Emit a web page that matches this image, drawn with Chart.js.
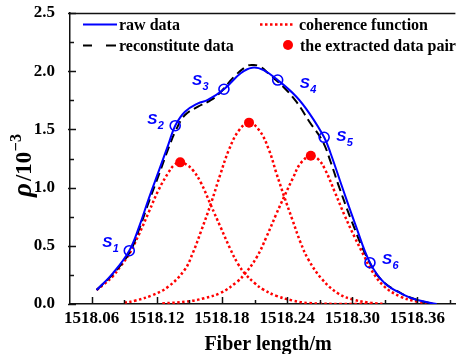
<!DOCTYPE html>
<html><head><meta charset="utf-8">
<script src="https://cdn.jsdelivr.net/npm/chart.js@4.4.0/dist/chart.umd.min.js"></script>
<style>html,body{margin:0;padding:0;background:#fff}canvas{display:block}</style>
</head><body>
<canvas id="c" width="462" height="354"></canvas>
<script>
// ---- data ----
const rawX = [1518.0645,1518.0795,1518.0946,1518.1037,1518.1127,1518.1218,1518.1308,1518.1369,1518.1459,1518.1579,1518.1669,1518.1818,1518.1972,1518.2077,1518.2183,1518.2313,1518.2485,1518.2605,1518.2741,1518.2801,1518.2907,1518.3027,1518.3163,1518.3299,1518.3480,1518.3600,1518.3778];
const rawY = [0.12,0.264,0.458,0.664,0.91,1.143,1.375,1.532,1.652,1.724,1.753,1.845,1.982,2.03,2.01,1.924,1.781,1.638,1.432,1.293,1.005,0.687,0.355,0.178,0.077,0.034,0.0];

const recX = [1518.0645,1518.0795,1518.0946,1518.1037,1518.1127,1518.1218,1518.1308,1518.1369,1518.1459,1518.1579,1518.1700,1518.1791,1518.1912,1518.2032,1518.2093,1518.2153,1518.2243,1518.2364,1518.2485,1518.2605,1518.2726,1518.2801,1518.2876,1518.2998,1518.3133,1518.3269,1518.3450,1518.3600,1518.3721];
const recY = [0.12,0.258,0.438,0.644,0.88,1.11,1.34,1.48,1.624,1.695,1.753,1.824,1.953,2.045,2.053,2.039,1.967,1.867,1.738,1.566,1.40,1.22,1.013,0.704,0.406,0.206,0.092,0.034,0.006];

const coh1X = [1518.0645,1518.0720,1518.0795,1518.0870,1518.0946,1518.1036,1518.1126,1518.1216,1518.1307,1518.1360,1518.1415,1518.1470,1518.1532,1518.1607,1518.1697,1518.1787,1518.1878,1518.1950,1518.2013,1518.2100,1518.2179,1518.2300,1518.2450,1518.2600,1518.2900,1518.3180];
const coh1Y = [0.12,0.175,0.24,0.33,0.43,0.60,0.79,0.98,1.13,1.195,1.217,1.20,1.15,1.04,0.85,0.66,0.47,0.34,0.26,0.18,0.125,0.07,0.03,0.008,0.0,0.0];

const coh2X = [1518.0900,1518.1006,1518.1156,1518.1307,1518.1457,1518.1532,1518.1607,1518.1697,1518.1787,1518.1863,1518.1955,1518.2049,1518.2145,1518.2233,1518.2299,1518.2374,1518.2450,1518.2525,1518.2600,1518.2720,1518.2870,1518.3000,1518.3150,1518.3300];
const coh2Y = [0.01,0.03,0.075,0.15,0.295,0.44,0.625,0.86,1.12,1.323,1.49,1.558,1.49,1.323,1.13,0.92,0.72,0.525,0.375,0.215,0.09,0.04,0.012,0.0];

const coh3X = [1518.1250,1518.1487,1518.1637,1518.1787,1518.1938,1518.2013,1518.2119,1518.2209,1518.2299,1518.2374,1518.2450,1518.2525,1518.2618,1518.2685,1518.2750,1518.2840,1518.2930,1518.3020,1518.3110,1518.3170,1518.3290,1518.3440,1518.3590,1518.3740];
const coh3Y = [0.005,0.022,0.05,0.095,0.19,0.262,0.40,0.575,0.77,0.925,1.075,1.21,1.274,1.245,1.155,0.96,0.76,0.578,0.41,0.30,0.155,0.065,0.022,0.003];

const sX = [1518.0946,1518.1369,1518.1818,1518.2313,1518.2741,1518.3163];
const sY = [0.458,1.532,1.845,1.924,1.432,0.355];
const sNames = ['1','2','3','4','5','6'];

const pairX = [1518.1415,1518.2049,1518.2618];
const pairY = [1.217,1.558,1.274];

const xMajorTicks = [1518.06,1518.12,1518.18,1518.24,1518.30,1518.36];
const xMinorTicks = [1518.09,1518.15,1518.21,1518.27,1518.33,1518.39];
const yMajorTicks = [0.0,0.5,1.0,1.5,2.0,2.5];
const yMinorTicks = [0.25,0.75,1.25,1.75,2.25];

const legendLabels = ['raw data','reconstitute data','coherence function','the extracted data pair'];
const xTitle = 'Fiber length/m';
// label offsets (px) of the S annotations relative to their circles
const sLabelOffsets = [[-27,-4],[-28,-2],[-32,-4],[22,8],[12,4],[12,1]];

// ---- build ----
const pts = (xs, ys) => xs.map((x, i) => ({x, y: ys[i]}));
const BLUE = '#0000ff', RED = '#ff0000';
const allXTicks = xMajorTicks.concat(xMinorTicks).sort((a,b)=>a-b);
const allYTicks = yMajorTicks.concat(yMinorTicks).sort((a,b)=>a-b);
const isMajorX = v => xMajorTicks.some(t => Math.abs(t - v) < 1e-6);
const isMajorY = v => yMajorTicks.some(t => Math.abs(t - v) < 1e-6);

const TENSION = 0.4;
const dotted = {borderColor: RED, borderWidth: 2.5, borderDash: [2.5, 2.5], pointRadius: 0, tension: TENSION, fill: false};

const deco = {
  id: 'deco',
  afterDraw(chart) {
    const ctx = chart.ctx, ca = chart.chartArea;
    const xs = chart.scales.x, ys = chart.scales.y;
    ctx.save();
    ctx.strokeStyle = '#111'; ctx.lineWidth = 1.5;
    ctx.beginPath();
    ctx.moveTo(ca.left, ca.top + 0.5); ctx.lineTo(ca.right, ca.top + 0.5);
    ctx.stroke();
    // tick marks (inward)
    allXTicks.forEach(v => {
      const px = Math.round(xs.getPixelForValue(v)) + 0.5;
      const len = isMajorX(v) ? 7 : 4;
      ctx.beginPath(); ctx.moveTo(px, ca.bottom); ctx.lineTo(px, ca.bottom - len); ctx.stroke();
    });
    allYTicks.forEach(v => {
      const py = Math.round(ys.getPixelForValue(v)) + 0.5;
      const len = isMajorY(v) ? 6 : 4;
      ctx.beginPath(); ctx.moveTo(ca.left - (isMajorY(v) ? 2 : 0), py); ctx.lineTo(ca.left + len, py); ctx.stroke();
    });
    // axis titles
    ctx.fillStyle = '#000';
    ctx.font = 'bold 20px "Liberation Serif"';
    ctx.textAlign = 'center'; ctx.textBaseline = 'alphabetic';
    ctx.fillText(xTitle, 268, 350);
    ctx.save();
    ctx.translate(31, 197); ctx.rotate(-Math.PI / 2);
    ctx.textAlign = 'left';
    ctx.font = 'italic bold 27px "Liberation Serif"';
    ctx.fillText('\u03C1', 0, 0);
    let w = ctx.measureText('\u03C1').width + 2;
    ctx.font = 'bold 23px "Liberation Serif"';
    ctx.fillText('/10', w, 0);
    w += ctx.measureText('/10').width + 0.5;
    ctx.font = 'bold 16px "Liberation Serif"';
    ctx.fillText('\u22123', w, -10);
    ctx.restore();
    // S labels
    ctx.fillStyle = BLUE; ctx.textAlign = 'left'; ctx.textBaseline = 'alphabetic';
    sX.forEach((x, i) => {
      const px = xs.getPixelForValue(x) + sLabelOffsets[i][0];
      const py = ys.getPixelForValue(sY[i]) + sLabelOffsets[i][1];
      ctx.font = 'italic bold 15px "Liberation Sans"';
      ctx.fillText('S', px, py);
      const sw = ctx.measureText('S').width;
      ctx.font = 'italic bold 11px "Liberation Sans"';
      ctx.fillText(sNames[i], px + sw + 0.5, py + 5);
    });
    // legend
    ctx.fillStyle = '#000';
    ctx.font = 'bold 16px "Liberation Serif"';
    ctx.textAlign = 'left';
    ctx.lineCap = 'butt';
    ctx.strokeStyle = BLUE; ctx.lineWidth = 2; ctx.setLineDash([]);
    ctx.beginPath(); ctx.moveTo(83, 24.5); ctx.lineTo(117, 24.5); ctx.stroke();
    ctx.fillText(legendLabels[0], 119, 30);
    ctx.strokeStyle = '#000';
    ctx.beginPath(); ctx.moveTo(83, 45.5); ctx.lineTo(92, 45.5); ctx.moveTo(106, 45.5); ctx.lineTo(116, 45.5); ctx.stroke();
    ctx.fillText(legendLabels[1], 119, 51);
    ctx.strokeStyle = RED; ctx.lineWidth = 2.5; ctx.setLineDash([2.5, 2.5]);
    ctx.beginPath(); ctx.moveTo(260, 24.5); ctx.lineTo(293, 24.5); ctx.stroke();
    ctx.setLineDash([]);
    ctx.fillText(legendLabels[2], 299, 30);
    ctx.fillStyle = RED;
    ctx.beginPath(); ctx.arc(288, 45, 5, 0, Math.PI * 2); ctx.fill();
    ctx.fillStyle = '#000';
    ctx.fillText(legendLabels[3], 300, 51);
    ctx.restore();
  }
};

new Chart(document.getElementById('c'), {
  type: 'line',
  data: {
    datasets: [
      {label: 'S', data: pts(sX, sY), showLine: false, pointRadius: 5, pointHoverRadius: 5, pointBorderColor: BLUE, pointBackgroundColor: 'rgba(255,255,255,0)', pointBorderWidth: 1.6, order: 0},
      {label: 'pair', data: pts(pairX, pairY), showLine: false, pointRadius: 5, pointHoverRadius: 5, pointBorderColor: RED, pointBackgroundColor: RED, pointBorderWidth: 0, order: 1},
      {label: legendLabels[0], data: pts(rawX, rawY), borderColor: BLUE, borderWidth: 2, pointRadius: 0, tension: TENSION, fill: false, order: 2},
      {label: legendLabels[1], data: pts(recX, recY), borderColor: '#000', borderWidth: 2, borderDash: [9, 5], pointRadius: 0, tension: TENSION, fill: false, order: 3},
      Object.assign({label: 'c1', data: pts(coh1X, coh1Y), order: 4}, dotted),
      Object.assign({label: 'c2', data: pts(coh2X, coh2Y), order: 5}, dotted),
      Object.assign({label: 'c3', data: pts(coh3X, coh3Y), order: 6}, dotted)
    ]
  },
  options: {
    responsive: false,
    animation: false,
    devicePixelRatio: 1,
    layout: {padding: {top: 13, left: 0, right: 0, bottom: 0}},
    plugins: {legend: {display: false}, tooltip: {enabled: false}},
    scales: {
      x: {
        type: 'linear', min: 1518.04, max: 1518.395,
        afterBuildTicks: s => { s.ticks = allXTicks.map(v => ({value: v})); },
        afterFit: s => { s.height = 50; s.paddingLeft = 0; s.paddingRight = 0; },
        grid: {display: false},
        border: {display: true, color: '#111', width: 1.5},
        ticks: {
          autoSkip: false, maxRotation: 0, padding: -4, color: '#000',
          font: {family: 'Liberation Serif', weight: 'bold', size: 17},
          callback: v => isMajorX(v) ? v.toFixed(2) : ''
        }
      },
      y: {
        type: 'linear', min: 0, max: 2.5,
        afterBuildTicks: s => { s.ticks = allYTicks.map(v => ({value: v})); },
        afterFit: s => { s.width = 70; s.paddingTop = 0; s.paddingBottom = 0; },
        grid: {display: false},
        border: {display: true, color: '#111', width: 1.5},
        ticks: {
          autoSkip: false, padding: 7, color: '#000',
          font: {family: 'Liberation Serif', weight: 'bold', size: 17},
          callback: v => isMajorY(v) ? v.toFixed(1) : ''
        }
      }
    }
  },
  plugins: [deco]
});
</script>
</body></html>
